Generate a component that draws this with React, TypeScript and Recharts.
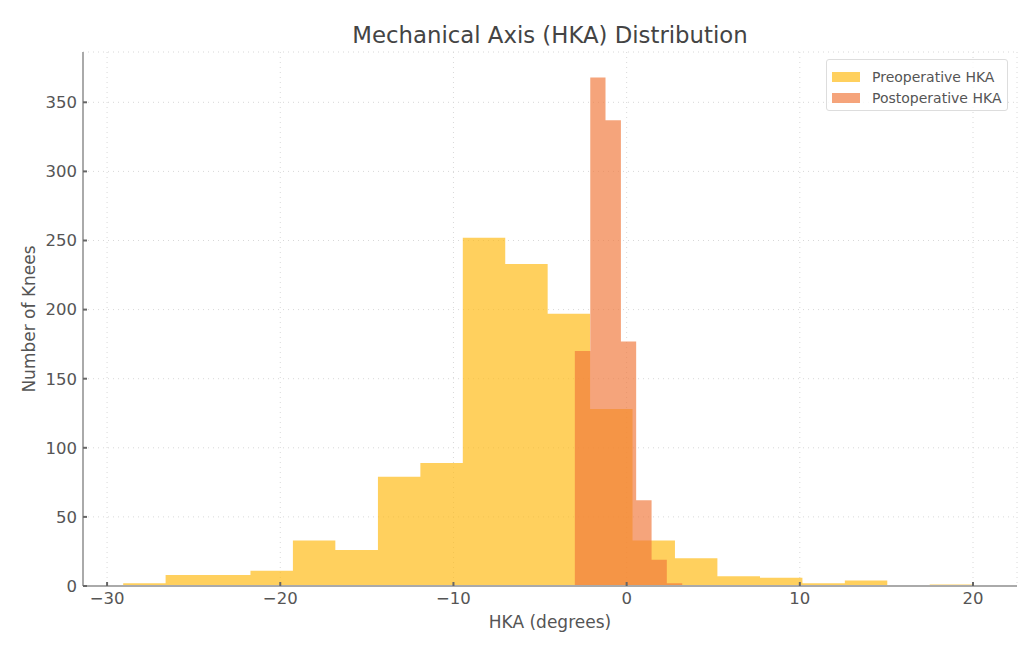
import React from "react";
import { ComposedChart, Area, XAxis, YAxis, CartesianGrid, Legend, Label } from "recharts";

// Histogram bin edges (degrees) and counts
const preopEdges = [
  -29.07, -26.62, -24.17, -21.72, -19.27, -16.82, -14.36, -11.91, -9.46, -7.01,
  -4.56, -2.11, 0.34, 2.79, 5.24, 7.7, 10.15, 12.6, 15.05, 17.5, 19.95,
];
const preopCounts = [2, 8, 8, 11, 33, 26, 79, 89, 252, 233, 197, 128, 33, 20, 7, 6, 2, 4, 0, 1];

const postopEdges = [-2.99, -2.1, -1.22, -0.33, 0.55, 1.44, 2.32, 3.21];
const postopCounts = [170, 368, 337, 177, 62, 19, 2];

const xTicks = [-30, -20, -10, 0, 10, 20];
const yTicks = [0, 50, 100, 150, 200, 250, 300, 350];

const PRE_COLOR = "#FFB90F";
const POST_COLOR = "#F0783A";
const OPACITY = 0.67;
const FONT = "'DejaVu Sans', sans-serif";
const TEXT = "#555";

function valueAt(edges: number[], counts: number[], x: number): number | null {
  const last = edges[edges.length - 1];
  if (x < edges[0] - 1e-9 || x > last + 1e-9) return null;
  if (Math.abs(x - last) < 1e-9) return 0;
  for (let i = 0; i < counts.length; i++) {
    if (x >= edges[i] - 1e-9 && x < edges[i + 1] - 1e-9) return counts[i];
  }
  return null;
}

const allX = Array.from(new Set([...preopEdges, ...postopEdges])).sort((a, b) => a - b);
const rows = allX.map((x) => ({
  x,
  pre: valueAt(preopEdges, preopCounts, x),
  post: valueAt(postopEdges, postopCounts, x),
}));

const fmt = (v: number) => String(v).replace("-", "\u2212");

const LegendBox = () => (
  <div
    style={{
      border: "1px solid #dddddd",
      borderRadius: 3,
      background: "rgba(255,255,255,0.8)",
      width: 182,
      height: 52,
      boxSizing: "border-box",
      padding: "6px 0 0 5px",
      fontFamily: FONT,
      fontSize: 14,
      color: TEXT,
    }}
  >
    {[
      { c: PRE_COLOR, t: "Preoperative HKA" },
      { c: POST_COLOR, t: "Postoperative HKA" },
    ].map((e, i) => (
      <div key={i} style={{ display: "flex", alignItems: "center", height: 21.5 }}>
        <span
          style={{
            display: "inline-block",
            width: 28,
            height: 10,
            background: e.c,
            opacity: OPACITY,
            marginRight: 12,
          }}
        />
        <span>{e.t}</span>
      </div>
    ))}
  </div>
);

export default function App() {
  return (
    <div style={{ position: "relative", width: 1019, height: 630 }}>
      <div
        style={{
          position: "absolute",
          left: 75,
          width: 934,
          top: 15,
          textAlign: "center",
          fontFamily: FONT,
          fontSize: 22.8,
          lineHeight: "24px",
          color: "#444",
          zIndex: 2,
        }}
      >
        Mechanical Axis (HKA) Distribution
      </div>
      <ComposedChart
        width={1019}
        height={630}
        data={rows}
        margin={{ top: 44, right: 10, bottom: 22, left: 0 }}
      >
        <CartesianGrid stroke="#d8d8d8" strokeDasharray="1 4" strokeWidth={1} />
        <XAxis
          dataKey="x"
          type="number"
          domain={[-31.39, 22.54]}
          allowDataOverflow
          ticks={xTicks}
          tickFormatter={fmt}
          height={30}
          stroke="#aaaaaa"
          strokeWidth={2}
          tickSize={-4}
          tickMargin={10}
          tickLine={{ stroke: "#666" }}
          tick={{ fill: TEXT, fontSize: 16.5, fontFamily: FONT }}
        >
          <Label
            content={(props: any) => {
              const vb = props.viewBox || {};
              const cx = vb.x + vb.width / 2;
              return (
                <text
                  x={cx}
                  y={614}
                  textAnchor="middle"
                  dominantBaseline="central"
                  fill={TEXT}
                  fontSize={17}
                  fontFamily={FONT}
                >
                  HKA (degrees)
                </text>
              );
            }}
          />
        </XAxis>
        <YAxis
          type="number"
          domain={[0, 386.4]}
          allowDataOverflow
          ticks={yTicks}
          width={75}
          stroke="#aaaaaa"
          strokeWidth={2}
          tickSize={-4}
          tickMargin={10}
          tickLine={{ stroke: "#666" }}
          tick={{ fill: TEXT, fontSize: 16.5, fontFamily: FONT }}
        >
          <Label
            content={(props: any) => {
              const vb = props.viewBox || {};
              const cy = vb.y + vb.height / 2;
              const cx = 21;
              return (
                <text
                  x={cx}
                  y={cy}
                  transform={`rotate(-90, ${cx}, ${cy})`}
                  textAnchor="middle"
                  dominantBaseline="central"
                  fill={TEXT}
                  fontSize={17}
                  fontFamily={FONT}
                >
                  Number of Knees
                </text>
              );
            }}
          />
        </YAxis>
        <Area
          dataKey="pre"
          type="stepAfter"
          stroke="none"
          fill={PRE_COLOR}
          fillOpacity={OPACITY}
          isAnimationActive={false}
          dot={false}
          activeDot={false}
          baseValue={0}
        />
        <Area
          dataKey="post"
          type="stepAfter"
          stroke="none"
          fill={POST_COLOR}
          fillOpacity={OPACITY}
          isAnimationActive={false}
          dot={false}
          activeDot={false}
          baseValue={0}
        />
        <Legend
          layout="vertical"
          align="center"
          verticalAlign="middle"
          content={() => <LegendBox />}
          wrapperStyle={{ top: 51, left: 818, width: 182, height: 52 }}
        />
      </ComposedChart>
    </div>
  );
}
